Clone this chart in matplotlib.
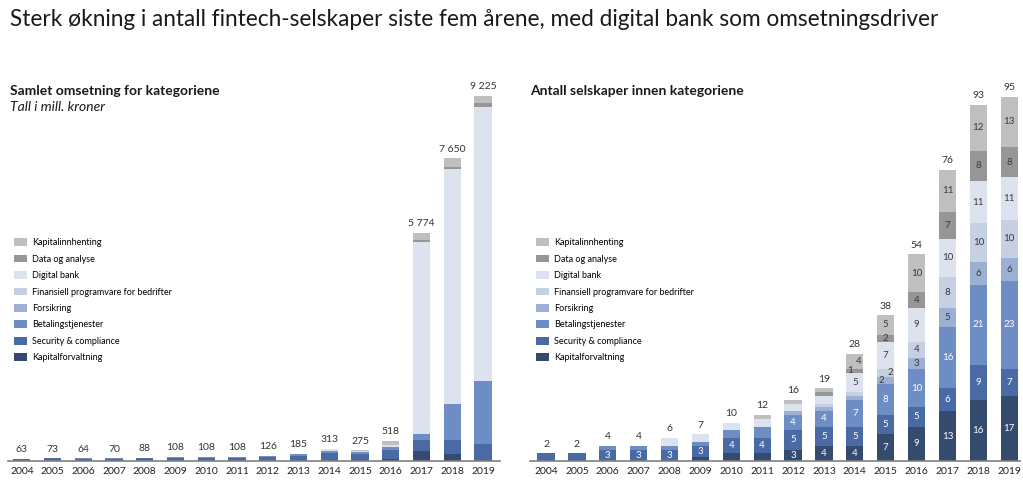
import numpy as np
import matplotlib
matplotlib.use("Agg")
import matplotlib.pyplot as plt

plt.rcParams['font.family'] = ['Lato', 'DejaVu Sans']

years = [str(y) for y in range(2004, 2020)]

categories = ['Kapitalforvaltning', 'Security & compliance', 'Betalingstjenester',
              'Forsikring', 'Finansiell programvare for bedrifter', 'Digital bank',
              'Data og analyse', 'Kapitalinnhenting']
colors = ['#344a6e', '#4a6aa5', '#6d8dc4', '#9bb0d3', '#c5d0e3', '#dde3ee',
          '#969696', '#bfbfbf']

# omsetning, mill. kroner (bottom to top)
rev_kapforv = [0, 0, 0, 0, 0, 3, 5, 5, 5, 5, 10, 10, 60, 250, 185, 0]
rev_security = [63, 73, 55, 60, 70, 80, 75, 75, 85, 120, 190, 160, 220, 270, 340, 440]
rev_betaling = [0, 0, 9, 10, 15, 23, 25, 25, 30, 50, 60, 50, 70, 170, 910, 1590]
rev_forsikring = [0, 0, 0, 0, 0, 0, 0, 0, 0, 0, 5, 5, 10, 0, 0, 0]
rev_finprog = [0, 0, 0, 0, 0, 0, 0, 0, 0, 0, 0, 0, 0, 0, 0, 0]
rev_digital = [0, 0, 0, 0, 3, 2, 3, 3, 6, 10, 35, 30, 35, 4834, 5935, 6925]
rev_data = [0, 0, 0, 0, 0, 0, 0, 0, 0, 0, 0, 0, 5, 60, 70, 100]
rev_kapinn = [0, 0, 0, 0, 0, 0, 0, 0, 0, 0, 13, 20, 118, 190, 210, 170]
rev_totals = [63, 73, 64, 70, 88, 108, 108, 108, 126, 185, 313, 275, 518, 5774, 7650, 9225]

# antall selskaper (bottom to top)
n_kapforv = [0, 0, 0, 0, 0, 1, 2, 2, 3, 4, 4, 7, 9, 13, 16, 17]
n_security = [2, 2, 3, 3, 3, 3, 4, 4, 5, 5, 5, 5, 5, 6, 9, 7]
n_betaling = [0, 0, 1, 1, 1, 1, 2, 3, 4, 4, 7, 8, 10, 16, 21, 23]
n_forsikring = [0, 0, 0, 0, 0, 0, 0, 0, 1, 1, 1, 2, 3, 5, 6, 6]
n_finprog = [0, 0, 0, 0, 0, 0, 0, 0, 0, 1, 1, 2, 4, 8, 10, 10]
n_digital = [0, 0, 0, 0, 2, 2, 2, 2, 2, 2, 5, 7, 9, 10, 11, 11]
n_data = [0, 0, 0, 0, 0, 0, 0, 0, 0, 1, 1, 2, 4, 7, 8, 8]
n_kapinn = [0, 0, 0, 0, 0, 0, 0, 1, 1, 1, 4, 5, 10, 11, 12, 13]
n_totals = [2, 2, 4, 4, 6, 7, 10, 12, 16, 19, 28, 38, 54, 76, 93, 95]

rev_series = [rev_kapforv, rev_security, rev_betaling, rev_forsikring,
              rev_finprog, rev_digital, rev_data, rev_kapinn]
n_series = [n_kapforv, n_security, n_betaling, n_forsikring,
            n_finprog, n_digital, n_data, n_kapinn]

# small segments labelled beside the bar: (year index, category index) -> x offset
side_labels = {(10, 6): -0.16, (10, 7): 0.14, (11, 3): -0.14, (11, 4): 0.14, (11, 6): 0.0}
# segments left without a label in the original
no_label = {(7, 2)}

W, H = 1023, 490
fig = plt.figure(figsize=(W / 100, H / 100), dpi=100)
fig.patch.set_facecolor('white')

fig.text(10 / W, 1 - 20 / H, 'Sterk økning i antall fintech-selskaper siste fem årene, med digital bank som omsetningsdriver',
         fontsize=16.3, color='#1a1a1a', va='center', ha='left')

base = (490 - 461) / H
top = (490 - 80) / H
ax1 = fig.add_axes([8 / W, base, 492 / W, top - base])
ax2 = fig.add_axes([530 / W, base, 490 / W, top - base])

x = np.arange(len(years))
bw = 0.56


def stacked(ax, series, totals, ymax, fmt):
    bottom = np.zeros(len(years))
    bars = []
    for vals, col, name in zip(series, colors, categories):
        b = ax.bar(x, vals, bw, bottom=bottom, color=col, label=name, linewidth=0)
        bars.append(b)
        bottom += np.array(vals, dtype=float)
    for i, t in enumerate(totals):
        ax.text(x[i], t + ymax * 0.012, fmt(t), ha='center', va='bottom',
                fontsize=7.5, color='#333333')
    ax.set_xlim(-0.45, 15.55)
    ax.set_ylim(0, ymax)
    ax.set_xticks(x)
    ax.set_xticklabels(years, fontsize=7.5, color='#222222')
    ax.tick_params(axis='x', length=0, pad=4)
    ax.set_yticks([])
    for s in ['top', 'right', 'left']:
        ax.spines[s].set_visible(False)
    ax.spines['bottom'].set_color('#808080')
    ax.spines['bottom'].set_linewidth(1.2)
    handles = bars[::-1]
    ax.legend(handles, categories[::-1], loc='upper left',
              bbox_to_anchor=(0.005, 0.594), frameon=False, fontsize=6.5,
              handlelength=1.4, handleheight=0.95, labelspacing=0.82,
              handletextpad=0.6, borderaxespad=0)


stacked(ax1, rev_series, rev_totals, 9225 * 381 / 365,
        lambda v: f'{v:,}'.replace(',', ' '))
stacked(ax2, n_series, n_totals, 95 * 381 / 364, lambda v: str(v))
ax2.set_xlim(-0.52, 15.35)

# segment labels in the count chart
for i in range(len(years)):
    bottom = 0
    for c, vals in enumerate(n_series):
        v = vals[i]
        if v > 0:
            col = 'white' if c < 3 else '#3a3a3a'
            if (i, c) in side_labels:
                ax2.text(x[i] + side_labels[(i, c)], bottom + v / 2, str(v), ha='center',
                         va='center', fontsize=7, color='#3a3a3a')
            elif v >= 3 and (i, c) not in no_label:
                ax2.text(x[i], bottom + v / 2, str(v), ha='center', va='center',
                         fontsize=7, color=col)
        bottom += v

fig.text(10 / W, 1 - 91 / H, 'Samlet omsetning for kategoriene', fontsize=10,
         fontweight='bold', color='#1a1a1a', va='center')
fig.text(10 / W, 1 - 107 / H, 'Tall i mill. kroner', fontsize=10,
         style='italic', color='#1a1a1a', va='center')
fig.text(530 / W, 1 - 91 / H, 'Antall selskaper innen kategoriene', fontsize=10,
         fontweight='bold', color='#1a1a1a', va='center')

fig.savefig('out.png', dpi=100)
